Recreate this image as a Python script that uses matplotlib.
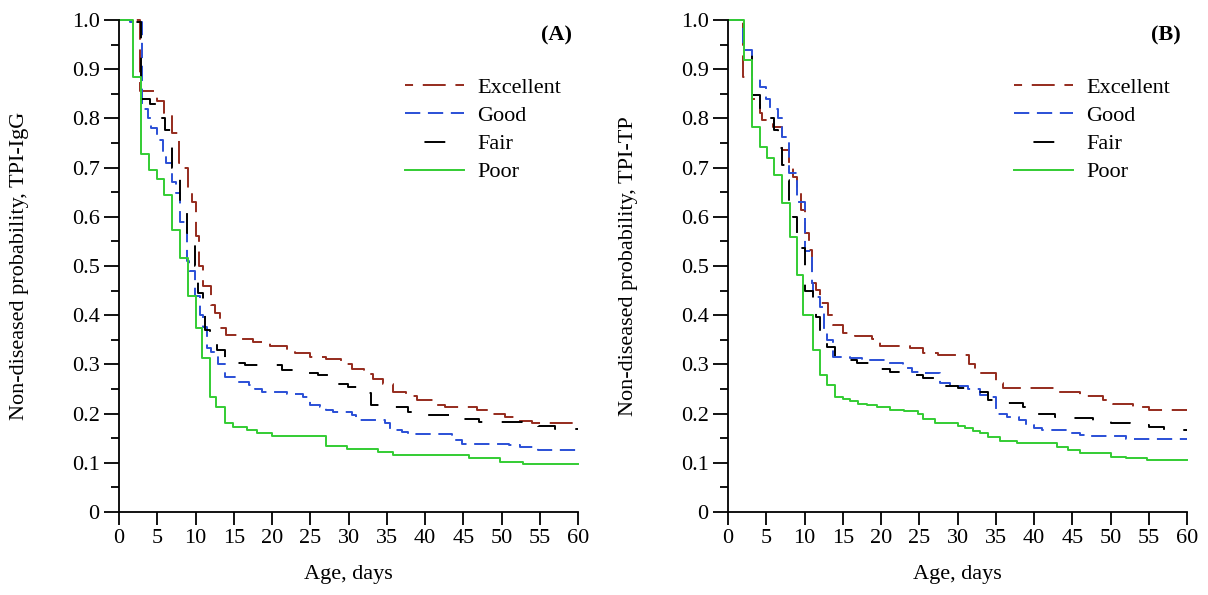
import numpy as np
import matplotlib
matplotlib.use('Agg')
import matplotlib.pyplot as plt
from matplotlib.ticker import MultipleLocator

plt.rcParams['font.family'] = 'Liberation Serif'
plt.rcParams['lines.scale_dashes'] = False

groups = ['Excellent', 'Good', 'Fair', 'Poor']

# panel A, TPI-IgG
a_exc_t = [0, 2.8, 5.0, 5.9, 6.9, 7.9, 8.5, 9.0, 9.5, 10.0, 10.5, 11.0, 12.0, 12.5, 13.2, 14.0, 16.1, 17.5,
           19.7, 22.0, 23.0, 25.0, 27.0, 29.0, 30.5, 32.0, 33.2, 34.5, 35.8, 37.5, 39.0, 41.0, 42.6, 46.8,
           48.5, 50.5, 52.0, 54.0]
a_exc_v = [1.0, 0.855, 0.835, 0.81, 0.77, 0.71, 0.70, 0.655, 0.63, 0.56, 0.50, 0.46, 0.42, 0.405, 0.375, 0.36,
           0.352, 0.345, 0.338, 0.33, 0.323, 0.315, 0.31, 0.30, 0.29, 0.28, 0.27, 0.26, 0.244, 0.236, 0.228,
           0.217, 0.213, 0.207, 0.199, 0.193, 0.185, 0.181]
a_good_t = [0, 1.5, 3.0, 3.8, 4.2, 5.0, 5.8, 6.2, 6.9, 7.5, 8.0, 8.9, 9.2, 9.9, 10.6, 11.0, 11.5, 12.0, 13.0,
            13.9, 15.6, 17.0, 17.8, 18.7, 22.0, 24.0, 25.0, 26.3, 27.0, 28.0, 30.5, 31.0, 34.8, 35.4, 37.0,
            37.8, 43.5, 44.8, 51.0, 52.4, 54.8]
a_good_v = [1.0, 0.995, 0.82, 0.80, 0.78, 0.756, 0.73, 0.71, 0.67, 0.648, 0.59, 0.51, 0.49, 0.44, 0.40, 0.376,
            0.333, 0.325, 0.30, 0.275, 0.264, 0.258, 0.25, 0.244, 0.24, 0.234, 0.217, 0.213, 0.207, 0.203,
            0.197, 0.187, 0.181, 0.167, 0.163, 0.159, 0.146, 0.138, 0.136, 0.132, 0.126]
a_fair_t = [0, 1.0, 2.9, 4.0, 5.0, 6.0, 6.9, 8.0, 8.9, 9.9, 10.3, 11.0, 11.2, 11.9, 12.8, 13.9, 16.5, 21.3,
            23.7, 26.0, 27.3, 29.9, 31.9, 33.0, 35.4, 37.8, 40.0, 44.5, 47.0, 52.7, 54.8, 57.0]
a_fair_v = [1.0, 0.995, 0.84, 0.83, 0.80, 0.776, 0.70, 0.634, 0.567, 0.50, 0.445, 0.425, 0.37, 0.354, 0.329,
            0.303, 0.299, 0.289, 0.283, 0.278, 0.26, 0.254, 0.242, 0.217, 0.213, 0.203, 0.197, 0.189, 0.183,
            0.179, 0.175, 0.169]
a_poor_t = [0, 1.8, 2.9, 3.9, 5.0, 5.9, 6.9, 8.0, 9.0, 10.0, 10.8, 11.9, 12.7, 13.9, 14.9, 16.7, 18.0, 20.0,
            27.0, 29.8, 33.8, 35.8, 45.7, 49.8, 52.8]
a_poor_v = [1.0, 0.884, 0.728, 0.695, 0.677, 0.644, 0.573, 0.516, 0.439, 0.375, 0.313, 0.234, 0.213, 0.181,
            0.173, 0.167, 0.16, 0.155, 0.134, 0.128, 0.122, 0.116, 0.110, 0.102, 0.098]

# panel B, TPI-TP
b_exc_t = [0, 2.0, 3.2, 4.2, 4.5, 5.9, 7.0, 8.0, 8.5, 9.0, 9.5, 10.0, 10.6, 11.0, 11.5, 12.0, 13.1, 13.7,
           15.0, 16.6, 18.8, 19.9, 23.8, 25.5, 27.5, 31.5, 32.3, 35.0, 36.0, 43.0, 46.0, 49.0, 50.3, 53.0, 55.0]
b_exc_v = [1.0, 0.885, 0.84, 0.81, 0.797, 0.783, 0.736, 0.705, 0.68, 0.648, 0.614, 0.567, 0.532, 0.465, 0.451,
           0.425, 0.40, 0.38, 0.364, 0.358, 0.352, 0.337, 0.333, 0.323, 0.319, 0.30, 0.283, 0.262, 0.252,
           0.244, 0.236, 0.228, 0.22, 0.213, 0.207]
b_good_t = [0, 2.0, 3.1, 4.2, 5.0, 5.5, 6.5, 7.0, 8.0, 9.0, 10.0, 11.0, 11.1, 12.0, 12.5, 13.0, 13.7, 16.0,
            17.5, 21.0, 22.9, 24.0, 25.0, 27.7, 29.0, 31.4, 33.0, 34.5, 35.0, 36.5, 38.0, 39.0, 40.0, 41.0,
            44.7, 46.0, 47.0, 52.0]
b_good_v = [1.0, 0.94, 0.88, 0.864, 0.84, 0.82, 0.80, 0.762, 0.69, 0.63, 0.53, 0.465, 0.437, 0.417, 0.37, 0.35,
            0.315, 0.313, 0.309, 0.303, 0.293, 0.285, 0.283, 0.262, 0.256, 0.25, 0.238, 0.234, 0.20, 0.193,
            0.187, 0.177, 0.171, 0.167, 0.161, 0.157, 0.155, 0.148]
b_fair_t = [0, 1.2, 2.1, 3.1, 4.2, 4.8, 6.0, 6.5, 7.0, 7.5, 8.0, 8.5, 9.0, 9.5, 10.0, 11.1, 11.5, 12.0, 13.0,
            14.0, 16.9, 18.8, 21.2, 23.5, 25.5, 27.5, 30.0, 32.0, 34.0, 36.2, 38.6, 40.4, 42.7, 45.0, 47.7,
            50.0, 52.5, 55.0, 57.0]
b_fair_v = [1.0, 0.994, 0.94, 0.848, 0.813, 0.80, 0.776, 0.74, 0.705, 0.675, 0.634, 0.60, 0.567, 0.537, 0.45,
            0.427, 0.396, 0.356, 0.335, 0.309, 0.303, 0.291, 0.285, 0.278, 0.272, 0.256, 0.252, 0.244, 0.228,
            0.222, 0.213, 0.20, 0.193, 0.191, 0.185, 0.181, 0.177, 0.173, 0.167]
b_poor_t = [0, 2.1, 3.1, 4.2, 5.1, 6.0, 7.0, 8.1, 9.0, 9.8, 11.1, 12.0, 12.9, 14.0, 15.0, 16.0, 17.0, 18.2,
            19.5, 21.2, 23.0, 24.8, 25.5, 27.0, 30.0, 31.0, 32.0, 33.0, 34.0, 35.6, 37.8, 43.0, 44.5, 46.0,
            50.0, 52.0, 54.8]
b_poor_v = [1.0, 0.919, 0.783, 0.742, 0.72, 0.685, 0.628, 0.559, 0.482, 0.40, 0.329, 0.278, 0.258, 0.234, 0.23,
            0.225, 0.22, 0.217, 0.213, 0.207, 0.205, 0.20, 0.19, 0.18, 0.175, 0.17, 0.165, 0.161, 0.152, 0.144,
            0.14, 0.132, 0.126, 0.12, 0.112, 0.11, 0.106]

colors = ['#952b1d', '#2a4fd6', 'black', '#33cc33']
# dash patterns in points (scale_dashes off)
styles = [(10.7, (16.5, 7)), (0, (11, 5.5)), (15, (15, 14)), '-']

fig = plt.figure(figsize=(12.08, 5.95), dpi=100)


def panel(rect, series, ylabel, tag):
    ax = fig.add_axes(rect)
    for (t, v), name, c, ls in zip(series, groups, colors, styles):
        t = list(t) + [60]
        v = list(v) + [v[-1]]
        ax.step(t, v, where='post', color=c, linestyle=ls, lw=1.4, label=name, clip_on=False)
    ax.set_xlim(0, 60)
    ax.set_ylim(0, 1.0)
    ax.xaxis.set_major_locator(MultipleLocator(5))
    ax.yaxis.set_minor_locator(MultipleLocator(0.05))
    ax.set_yticks(np.arange(0, 1.01, 0.1))
    ax.set_yticklabels(['0'] + ['%.1f' % y for y in np.arange(0.1, 1.01, 0.1)])
    ax.spines['top'].set_visible(False)
    ax.spines['right'].set_visible(False)
    ax.spines['left'].set_linewidth(1.3)
    ax.spines['bottom'].set_linewidth(1.3)
    ax.tick_params(axis='y', which='major', length=11, width=1.3, labelsize=16, pad=3)
    ax.tick_params(axis='x', which='major', length=9.5, width=1.3, labelsize=16, pad=3)
    ax.tick_params(axis='y', which='minor', length=6, width=1.3)
    ax.set_xlabel('Age, days', fontsize=16)
    ax.set_ylabel(ylabel, fontsize=16)
    ax.yaxis.set_label_coords(-90 / 459, 0.5)
    ax.xaxis.set_label_coords(0.5, -53 / 492)
    ax.text(0.987, 0.988, tag, transform=ax.transAxes, ha='right', va='top', fontsize=16, fontweight='bold')
    ax.legend(loc='upper left', bbox_to_anchor=(286 / 459, 0.883), frameon=False, fontsize=16,
              handlelength=2.65, handletextpad=0.6, labelspacing=0.34, borderpad=0, borderaxespad=0)
    return ax


panel([119 / 1208, 83 / 595, 459 / 1208, 492 / 595],
      [(a_exc_t, a_exc_v), (a_good_t, a_good_v), (a_fair_t, a_fair_v), (a_poor_t, a_poor_v)],
      'Non-diseased probability, TPI-IgG', '(A)')
panel([728 / 1208, 83 / 595, 459 / 1208, 492 / 595],
      [(b_exc_t, b_exc_v), (b_good_t, b_good_v), (b_fair_t, b_fair_v), (b_poor_t, b_poor_v)],
      'Non-diseased probability, TPI-TP', '(B)')

fig.savefig('out.png', dpi=100)
